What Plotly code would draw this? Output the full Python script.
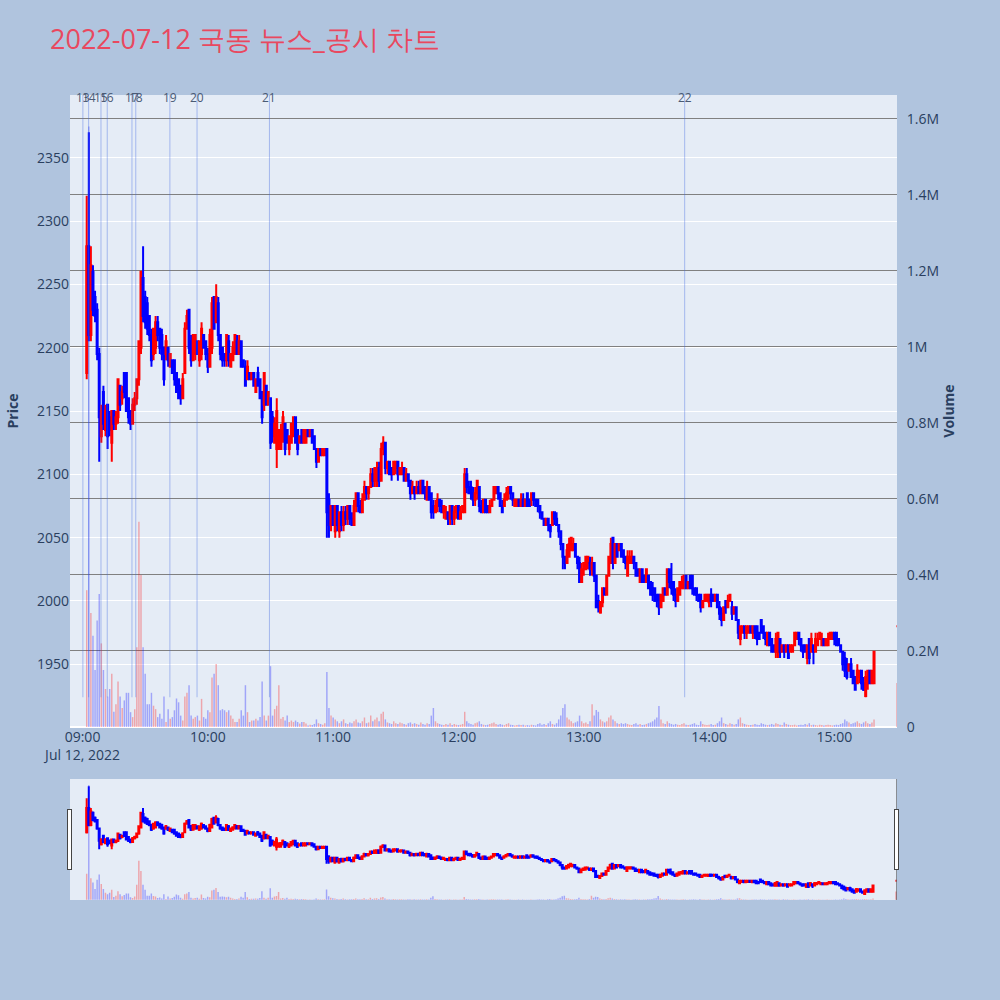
import pandas as pd
import plotly.graph_objects as go

# ---- data (1-minute candles, 09:02 .. 15:19, plus 15:30 closing auction) ----
open_ = [
 2180,2280,2210,2260,2240,2230,2195,2130,
 2165,2135,2155,2145,2125,2150,2140,2145,2170,2160,
 2180,2180,2160,2150,2140,2155,2160,2175,2200,2255,
 2240,2235,2225,2210,2195,2200,2220,2215,2210,2200,
 2195,2200,2185,2190,2190,2180,2175,2170,2160,2180,
 2215,2230,2205,2190,2195,2205,2190,2195,2210,2205,
 2195,2185,2200,2240,2220,2235,2210,2200,2195,2190,
 2205,2185,2190,2195,2205,2195,2205,2190,2185,2175,
 2180,2175,2180,2165,2180,2175,2165,2155,2170,2155,
 2160,2145,2125,2120,2120,2120,2130,2140,2135,2120,
 2125,2130,2145,2135,2125,2135,2125,2125,2135,2130,
 2135,2130,2120,2110,2120,2115,2115,2120,2080,2060,
 2075,2055,2075,2055,2070,2060,2070,2065,2075,2065,
 2060,2075,2085,2075,2070,2080,2090,2085,2090,2100,
 2095,2095,2105,2095,2120,2125,2105,2110,2105,2100,
 2105,2110,2100,2100,2105,2095,2100,2095,2085,2090,
 2085,2090,2085,2095,2090,2080,2090,2085,2075,2070,
 2075,2080,2075,2070,2065,2070,2065,2075,2065,2070,
 2075,2065,2070,2070,2100,2090,2090,2085,2080,2085,
 2090,2075,2070,2080,2075,2070,2075,2080,2085,2090,
 2085,2075,2075,2080,2085,2090,2085,2075,2075,2080,
 2075,2080,2075,2085,2080,2080,2085,2080,2080,2075,
 2070,2065,2060,2065,2060,2060,2070,2065,2060,2055,
 2045,2035,2030,2035,2040,2040,2045,2035,2030,2015,
 2025,2025,2030,2030,2025,2030,2020,2000,1991,1999,
 2010,2005,2020,2030,2050,2030,2045,2040,2045,2040,
 2035,2020,2030,2030,2035,2030,2025,2015,2025,2020,
 2015,2020,2015,2010,2010,2005,2005,1995,2000,2010,
 2005,2025,2015,2015,2005,2000,2005,2010,2010,2020,
 2010,2020,2020,2010,2010,2005,2005,1995,2000,2000,
 1999,2005,2005,2000,2005,1995,1990,1985,2000,1995,
 2000,1995,1990,1995,1985,1970,1975,1980,1975,1975,
 1980,1975,1980,1980,1975,1985,1980,1975,1965,1975,
 1970,1965,1960,1960,1970,1960,1965,1960,1965,1960,
 1960,1965,1970,1975,1970,1965,1965,1955,1970,1960,
 1965,1960,1965,1970,1965,1970,1965,1965,1970,1970,
 1975,1975,1970,1965,1960,1955,1950,1945,1950,1945,
 1940,1935,1940,1945,1935,1925,1935,1945,1935,1935,
 1980]
high = [
 2320,2370,2280,2265,2245,2235,2200,2155,
 2170,2155,2155,2150,2150,2150,2150,2175,2170,2170,
 2180,2180,2160,2150,2160,2165,2175,2205,2260,2280,
 2245,2240,2225,2215,2215,2225,2225,2215,2215,2200,
 2210,2200,2195,2190,2190,2180,2175,2170,2180,2220,
 2230,2230,2210,2210,2210,2205,2205,2220,2210,2205,
 2200,2215,2240,2240,2250,2240,2210,2200,2195,2210,
 2210,2195,2205,2210,2210,2210,2205,2190,2190,2190,
 2180,2180,2180,2175,2185,2175,2165,2180,2170,2165,
 2160,2150,2145,2160,2135,2140,2150,2140,2135,2130,
 2140,2145,2145,2135,2130,2135,2135,2135,2135,2135,
 2135,2130,2120,2120,2120,2120,2120,2120,2085,2075,
 2075,2075,2075,2070,2075,2075,2075,2075,2075,2070,
 2080,2085,2085,2080,2085,2095,2090,2090,2105,2105,
 2105,2110,2110,2125,2130,2125,2110,2110,2105,2110,
 2110,2110,2105,2110,2105,2105,2100,2095,2095,2090,
 2095,2095,2095,2095,2090,2095,2090,2085,2080,2080,
 2085,2080,2080,2075,2075,2070,2075,2075,2075,2075,
 2075,2075,2075,2105,2105,2095,2095,2090,2090,2095,
 2090,2080,2080,2080,2075,2080,2080,2090,2090,2090,
 2085,2080,2085,2090,2090,2090,2085,2080,2080,2080,
 2085,2085,2080,2085,2080,2085,2085,2080,2080,2075,
 2070,2065,2065,2065,2060,2070,2070,2070,2060,2055,
 2045,2035,2045,2050,2050,2050,2045,2035,2035,2030,
 2030,2035,2035,2035,2035,2030,2020,2005,2000,2010,
 2010,2020,2035,2050,2050,2045,2045,2045,2045,2040,
 2035,2040,2040,2040,2035,2030,2025,2025,2025,2020,
 2025,2020,2015,2015,2010,2005,2005,2005,2010,2010,
 2025,2025,2030,2015,2010,2010,2015,2020,2020,2020,
 2015,2020,2020,2010,2010,2005,2005,2000,2005,2005,
 2005,2010,2005,2005,2005,2000,1995,1995,2000,2005,
 2005,2000,1995,1995,1985,1980,1980,1980,1980,1980,
 1980,1980,1980,1980,1975,1985,1980,1975,1975,1975,
 1970,1965,1975,1975,1970,1965,1965,1965,1965,1965,
 1965,1975,1975,1975,1970,1965,1965,1965,1970,1975,
 1965,1975,1975,1975,1975,1970,1970,1975,1975,1975,
 1975,1975,1970,1965,1960,1960,1955,1950,1955,1945,
 1940,1950,1945,1945,1940,1945,1945,1945,1945,1960,
 1980]
low = [
 2175,2205,2205,2225,2220,2190,2110,2125,
 2135,2130,2120,2130,2110,2135,2135,2140,2150,2155,
 2160,2150,2140,2135,2140,2150,2155,2170,2195,2220,
 2215,2210,2205,2185,2190,2195,2205,2195,2190,2170,
 2190,2185,2185,2180,2170,2165,2160,2155,2160,2180,
 2215,2195,2185,2190,2190,2195,2185,2190,2200,2190,
 2180,2185,2195,2215,2220,2205,2190,2185,2185,2185,
 2185,2185,2190,2195,2195,2195,2185,2185,2170,2175,
 2175,2175,2170,2165,2170,2160,2140,2150,2155,2155,
 2120,2125,2125,2105,2120,2120,2125,2115,2125,2115,
 2125,2130,2125,2115,2125,2125,2125,2125,2130,2130,
 2125,2120,2105,2110,2115,2115,2115,2050,2050,2055,
 2060,2050,2055,2050,2055,2055,2060,2060,2060,2060,
 2060,2070,2070,2070,2070,2080,2080,2080,2090,2090,
 2090,2090,2090,2095,2115,2100,2100,2100,2095,2100,
 2100,2095,2100,2100,2095,2095,2090,2080,2085,2080,
 2085,2085,2085,2085,2080,2080,2080,2065,2065,2070,
 2070,2070,2070,2065,2065,2060,2060,2060,2060,2065,
 2065,2065,2070,2070,2085,2085,2080,2075,2075,2080,
 2070,2070,2070,2070,2070,2070,2075,2080,2085,2080,
 2075,2070,2075,2080,2080,2080,2075,2075,2075,2075,
 2075,2075,2075,2075,2075,2075,2075,2075,2070,2065,
 2065,2060,2060,2055,2050,2060,2060,2060,2050,2040,
 2025,2025,2030,2035,2040,2040,2035,2025,2015,2015,
 2020,2025,2025,2020,2020,2015,1995,1991,1990,1995,
 2005,2005,2020,2030,2025,2030,2035,2040,2035,2030,
 2025,2020,2030,2030,2025,2020,2020,2015,2015,2015,
 2015,2010,2005,2000,2000,1995,1989,1995,2000,2005,
 2005,2010,2005,2000,1995,2000,2005,2010,2010,2010,
 2010,2010,2005,2005,2000,2000,1991,1995,2000,2000,
 1995,1995,2000,2000,1995,1985,1980,1985,1990,1995,
 2000,1985,1990,1985,1970,1965,1975,1970,1970,1975,
 1975,1970,1970,1965,1970,1975,1970,1965,1965,1965,
 1960,1960,1955,1955,1955,1960,1955,1960,1955,1960,
 1960,1965,1970,1965,1960,1955,1960,1950,1950,1960,
 1950,1960,1965,1970,1965,1965,1965,1965,1970,1970,
 1965,1965,1965,1960,1945,1940,1938,1945,1940,1935,
 1930,1935,1935,1930,1929,1924,1930,1935,1935,1935,
 1980]
close = [
 2280,2210,2265,2230,2225,2195,2145,2150,
 2140,2150,2130,2135,2150,2140,2145,2175,2155,2165,
 2165,2150,2145,2140,2155,2160,2175,2205,2260,2225,
 2220,2215,2210,2190,2215,2220,2210,2200,2195,2175,
 2205,2190,2195,2180,2175,2165,2160,2160,2175,2215,
 2225,2200,2190,2210,2210,2195,2205,2215,2200,2195,
 2185,2210,2235,2215,2240,2210,2195,2190,2190,2210,
 2190,2195,2200,2210,2195,2205,2185,2185,2170,2185,
 2175,2180,2170,2175,2170,2160,2145,2180,2155,2165,
 2125,2130,2140,2150,2135,2135,2145,2120,2125,2130,
 2140,2145,2125,2120,2130,2125,2135,2135,2130,2135,
 2125,2120,2110,2120,2115,2120,2120,2070,2060,2075,
 2060,2075,2060,2070,2060,2070,2065,2075,2065,2060,
 2075,2085,2075,2070,2080,2090,2085,2090,2100,2095,
 2105,2105,2095,2120,2125,2105,2110,2100,2100,2110,
 2110,2100,2105,2105,2095,2100,2095,2085,2090,2085,
 2090,2085,2095,2085,2085,2090,2080,2070,2070,2075,
 2080,2075,2070,2075,2070,2065,2075,2065,2070,2075,
 2065,2070,2075,2100,2090,2085,2085,2080,2085,2095,
 2075,2070,2080,2070,2070,2075,2080,2090,2090,2085,
 2075,2070,2080,2085,2090,2085,2080,2080,2080,2075,
 2080,2075,2080,2075,2075,2085,2080,2075,2075,2070,
 2065,2060,2065,2060,2055,2070,2065,2060,2055,2045,
 2035,2030,2040,2045,2050,2045,2035,2030,2015,2025,
 2030,2035,2035,2025,2030,2020,1995,1995,1999,2010,
 2005,2020,2035,2045,2030,2045,2035,2045,2035,2035,
 2030,2035,2035,2035,2030,2020,2020,2025,2015,2015,
 2025,2010,2005,2005,2000,2000,1995,2005,2010,2005,
 2025,2015,2010,2005,2000,2010,2015,2015,2020,2010,
 2015,2010,2010,2005,2005,2000,1995,2000,2005,2005,
 2005,2000,2000,2005,1995,1990,1985,1995,1995,2000,
 2005,1990,1995,1985,1975,1980,1980,1975,1980,1980,
 1975,1980,1975,1970,1970,1975,1975,1970,1975,1965,
 1960,1960,1970,1975,1960,1965,1960,1965,1955,1965,
 1965,1975,1975,1970,1965,1960,1960,1965,1955,1970,
 1960,1970,1970,1975,1970,1965,1970,1970,1975,1975,
 1970,1965,1965,1960,1950,1945,1940,1950,1940,1935,
 1930,1945,1945,1935,1930,1940,1945,1935,1945,1960,
 1980]
volume = [
 360000,1580000,300000,240000,150000,280000,350000,220000,
 150000,100000,80000,100000,140000,40000,60000,120000,80000,50000,
 70000,90000,90000,39000,26000,47000,210000,540000,400000,210000,
 140000,60000,60000,90000,56000,47000,26000,35000,22000,80000,
 13000,47000,22000,26000,44000,75000,65000,30000,17000,80000,
 90000,110000,30000,22000,26000,30000,17000,74000,26000,22000,
 44000,39000,130000,140000,166000,110000,44000,47000,44000,39000,
 44000,30000,22000,13000,13000,22000,44000,30000,110000,39000,
 13000,17000,17000,22000,17000,26000,120000,30000,17000,30000,
 160000,30000,47000,56000,110000,22000,26000,17000,30000,13000,
 17000,13000,17000,13000,9000,13000,13000,9000,4000,6000,
 5000,8000,20000,10000,8000,6000,10000,145000,50000,30000,
 25000,20000,15000,10000,15000,20000,10000,8000,12000,10000,
 15000,20000,12000,10000,15000,25000,10000,12000,30000,15000,
 20000,25000,15000,35000,40000,20000,12000,10000,8000,15000,
 10000,8000,12000,10000,8000,6000,10000,12000,8000,10000,
 8000,6000,12000,8000,6000,10000,8000,30000,50000,15000,
 10000,8000,6000,5000,8000,6000,10000,5000,8000,6000,
 5000,6000,8000,40000,15000,10000,8000,6000,10000,12000,
 15000,8000,6000,5000,6000,8000,10000,12000,8000,6000,
 8000,6000,5000,8000,10000,6000,5000,4000,5000,6000,
 5000,6000,4000,5000,4000,6000,5000,4000,8000,10000,
 6000,8000,5000,10000,15000,8000,6000,10000,20000,30000,
 50000,60000,25000,20000,15000,10000,12000,15000,30000,15000,
 10000,12000,8000,15000,60000,30000,45000,40000,20000,15000,
 12000,15000,25000,30000,20000,15000,10000,8000,10000,8000,
 10000,8000,6000,5000,8000,10000,6000,8000,5000,6000,
 8000,10000,12000,15000,20000,25000,55000,20000,10000,8000,
 15000,10000,8000,6000,8000,6000,5000,8000,10000,6000,
 5000,6000,8000,10000,6000,5000,15000,8000,6000,5000,
 6000,8000,5000,6000,10000,15000,25000,10000,8000,6000,
 10000,8000,6000,8000,20000,25000,10000,8000,6000,5000,
 5000,6000,8000,6000,5000,10000,8000,6000,5000,6000,
 8000,6000,10000,8000,6000,5000,12000,8000,6000,5000,
 5000,6000,4000,5000,6000,5000,8000,6000,10000,5000,
 6000,5000,4000,6000,5000,4000,5000,6000,5000,4000,
 5000,6000,5000,8000,10000,20000,15000,12000,8000,10000,
 12000,15000,10000,8000,12000,15000,10000,8000,12000,20000,
 116000]

times = list(pd.date_range("2022-07-12 09:02", "2022-07-12 15:19", freq="min")) + [pd.Timestamp("2022-07-12 15:30")]

# news / disclosure markers visible in the chart window
news_times = [
 "2022-07-12 09:00:10", "2022-07-12 09:02:55", "2022-07-12 09:08:50", "2022-07-12 09:11:50",
 "2022-07-12 09:23:40", "2022-07-12 09:25:30", "2022-07-12 09:41:50", "2022-07-12 09:54:50",
 "2022-07-12 10:29:30", "2022-07-12 13:48:20",
]
news_labels = ["13", "14", "15", "16", "17", "18", "19", "20", "21", "22"]

title_text = "2022-07-12 국동 뉴스_공시 차트"

# ---- figure ----
vol_colors = ["rgba(255,0,0,0.3)" if c >= o else "rgba(0,0,255,0.3)" for o, c in zip(open_, close)]

fig = go.Figure()
fig.add_trace(go.Candlestick(
    x=times, open=open_, high=high, low=low, close=close,
    increasing=dict(line=dict(color="red", width=2), fillcolor="red"),
    decreasing=dict(line=dict(color="blue", width=2), fillcolor="blue"),
    showlegend=False, yaxis="y"))
fig.add_trace(go.Bar(x=times, y=volume, marker=dict(color=vol_colors, line=dict(width=0)),
                     yaxis="y2", showlegend=False))

y_lo, y_hi = 1900.5, 2399.5
shapes = []
annotations = []
for t, lab in zip(news_times, news_labels):
    shapes.append(dict(type="line", xref="x", yref="y", x0=t, x1=t, y0=min(low), y1=y_hi,
                       line=dict(color="rgba(65,105,225,0.4)", width=1)))
    annotations.append(dict(x=t, y=1, xref="x", yref="paper", text=lab, showarrow=False,
                            yanchor="middle", yshift=-2, font=dict(size=12, color="#4a5a75")))

fig.update_layout(
    template="plotly",
    width=1000, height=1000,
    paper_bgcolor="#B0C4DE",
    plot_bgcolor="#E5ECF6",
    margin=dict(l=68, r=103, t=95, b=100),
    title=dict(text=title_text, x=0.05, xanchor="left", y=0.96, yanchor="middle",
               font=dict(size=27, color="#E9485F")),
    showlegend=False,
    shapes=shapes,
    annotations=annotations,
    bargap=0.3,
    xaxis=dict(type="date", range=["2022-07-12 08:54", "2022-07-12 15:30"], tickfont=dict(size=14),
               rangeslider=dict(visible=True, thickness=0.15, bgcolor="#E5ECF6")),
    yaxis=dict(title=dict(text="<b>Price</b>", font=dict(size=14)), range=[y_lo, y_hi], dtick=50,
               gridcolor="white", tickfont=dict(size=14)),
    yaxis2=dict(title=dict(text="<b>Volume</b>", font=dict(size=14), standoff=6), overlaying="y",
                side="right", range=[0, 1663000], dtick=200000, showgrid=True, gridcolor="gray",
                tickfont=dict(size=14), ticks="outside", ticklen=6, tickcolor="rgba(0,0,0,0)"),
)

fig.write_html("out.html", config={"displayModeBar": False},
               post_script="document.body.style.margin='0';")
